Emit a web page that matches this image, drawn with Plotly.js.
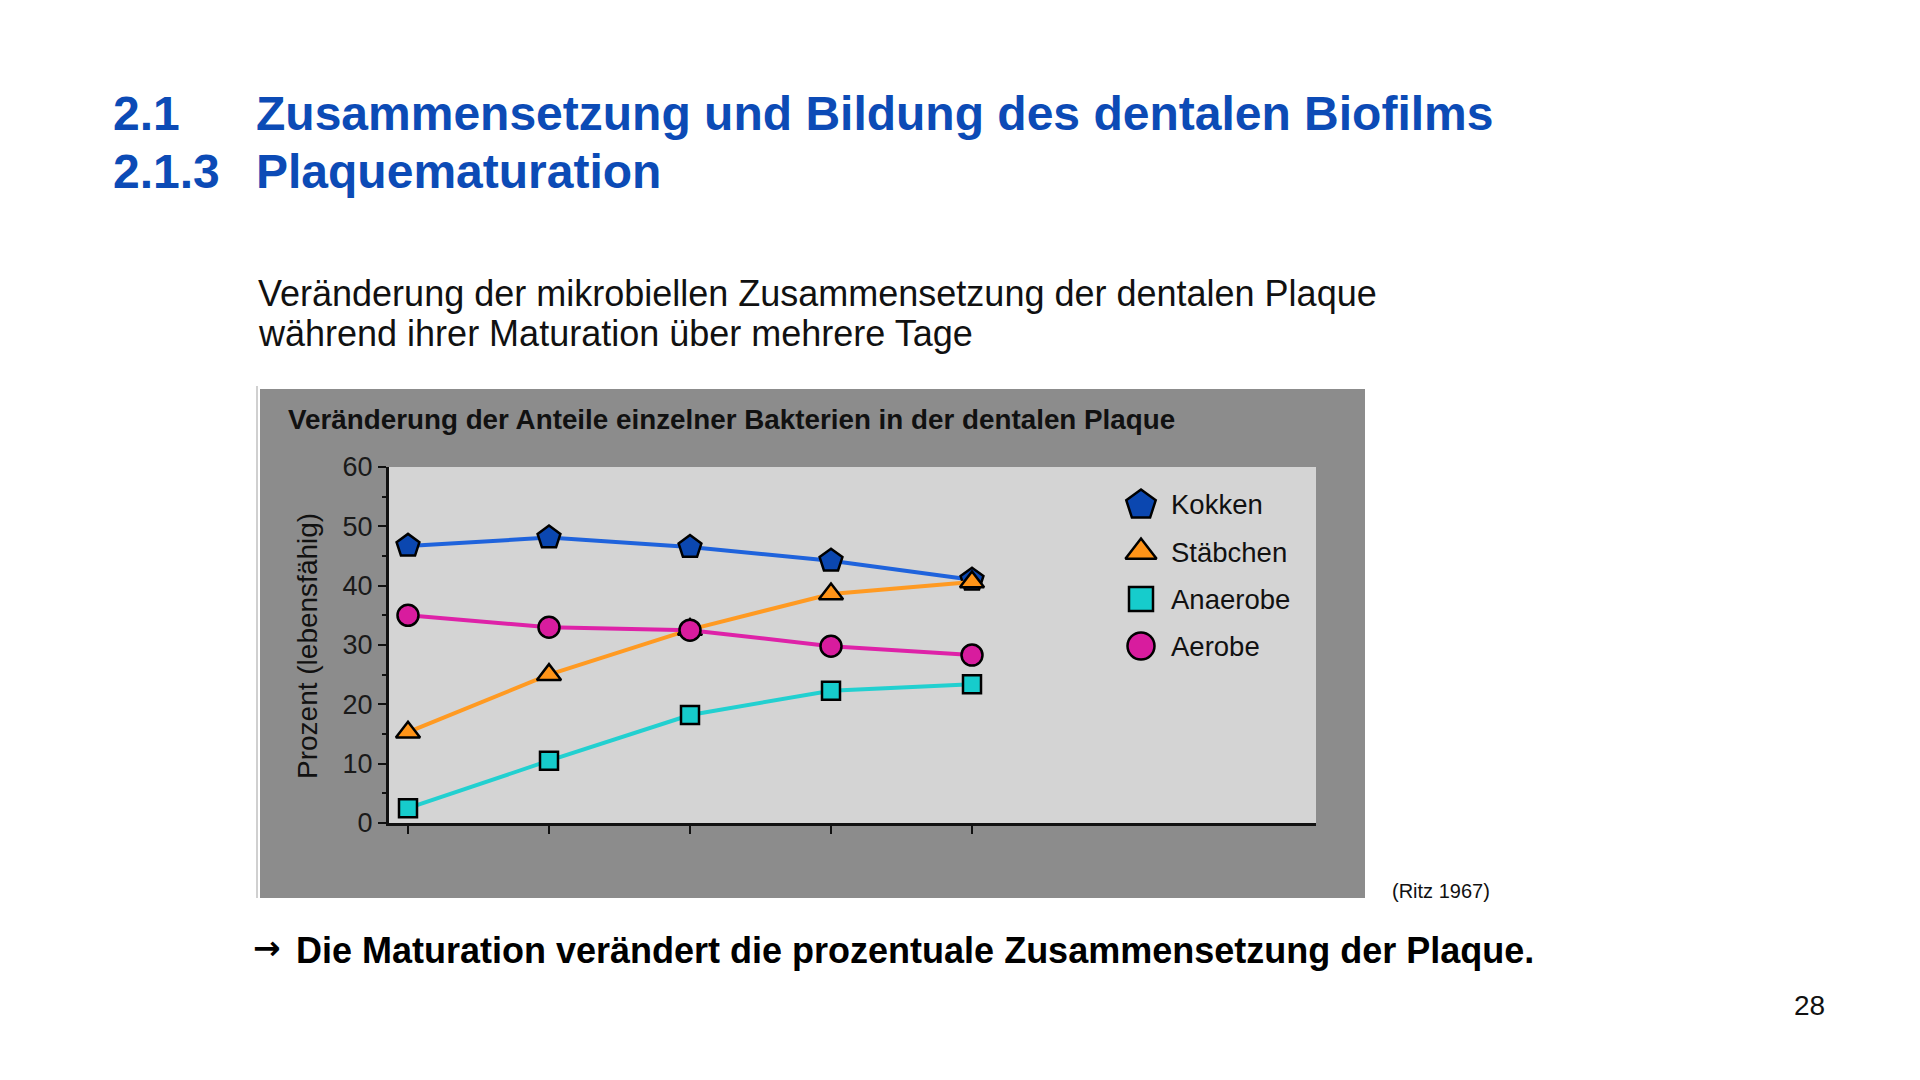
<!DOCTYPE html>
<html lang="de">
<head>
<meta charset="utf-8">
<title>Plaquematuration</title>
<script src="https://cdn.plot.ly/plotly-3.0.1.min.js"></script>
<style>
  html, body { margin: 0; padding: 0; background: #fff; }
  #plot-area { width: 1920px; height: 1080px; }
</style>
</head>
<body>
<div id="plot-area"></div>
<script>
// --- Daten ---
const tage = [1, 2, 3, 4, 5];
const kokken = [46.7, 48.1, 46.5, 44.2, 41.0];
const staebchen = [15.3, 25.0, 32.6, 38.6, 40.6];
const anaerobe = [2.5, 10.5, 18.2, 22.3, 23.4];
const aerobe = [35.0, 33.0, 32.5, 29.8, 28.3];

const serienNamen = ['Kokken', 'Stäbchen', 'Anaerobe', 'Aerobe'];
const yTicks = [0, 10, 20, 30, 40, 50, 60];

// --- Stil ---
const FONT = 'Liberation Sans, Arial, sans-serif';
const BLUE_TITLE = '#0c4bb6';
const styles = [
    { symbol: 'pentagon', fill: '#0b47b0', line: '#1f63dc', size: 24, legSize: 31 },
    { symbol: 'triangle-up', fill: '#ff9418', line: '#ff9a22', size: 21, legSize: 27 },
    { symbol: 'square', fill: '#16cccc', line: '#22d0d0', size: 18, legSize: 24 },
    { symbol: 'circle', fill: '#d81c9e', line: '#de22a8', size: 21, legSize: 27 }
];
const serien = [kokken, staebchen, anaerobe, aerobe];

// Pixel -> paper
const W = 1920, H = 1080;
const px = v => v / W;
const py = v => 1 - v / H;

// Plotbereich in Pixeln
const plotL = 389, plotR = 1316, plotT = 467, plotB = 823;

// --- Linien + Marker ---
const data = serien.map((vals, i) => ({
    x: tage,
    y: vals,
    type: 'scatter',
    mode: 'lines+markers',
    name: serienNamen[i],
    line: { color: styles[i].line, width: 4 },
    marker: {
        symbol: styles[i].symbol,
        size: styles[i].size,
        color: styles[i].fill,
        opacity: 1,
        line: { color: '#000', width: 2.5 }
    },
    showlegend: false,
    hoverinfo: 'none'
}));

// Legende von Hand (Plotly begrenzt die Markergröße in der Legende)
const legX = 1141, legY0 = 505, legStep = 47;
data.push({
    x: serienNamen.map(() => legX),
    y: serienNamen.map((_, i) => legY0 + i * legStep),
    xaxis: 'x2',
    yaxis: 'y2',
    type: 'scatter',
    mode: 'markers',
    marker: {
        symbol: styles.map(s => s.symbol),
        size: styles.map(s => s.legSize),
        color: styles.map(s => s.fill),
        opacity: 1,
        line: { color: '#000', width: 2.5 }
    },
    showlegend: false,
    hoverinfo: 'none'
});

const annotations = [];

serienNamen.forEach((n, i) => {
    annotations.push({
        x: legX + 28, y: legY0 + i * legStep,
        xref: 'x2', yref: 'y2',
        text: n, showarrow: false,
        xanchor: 'left', yanchor: 'middle',
        font: { family: FONT, size: 27.5, color: '#111' }
    });
});

// Diagrammtitel + Achsentitel
annotations.push({
    x: px(286), y: py(419), xref: 'paper', yref: 'paper',
    text: '<b>Veränderung der Anteile einzelner Bakterien in der dentalen Plaque</b>',
    showarrow: false, xanchor: 'left', yanchor: 'middle',
    font: { family: FONT, size: 27.8, color: '#111' }
});
annotations.push({
    x: px(307), y: py(646), xref: 'paper', yref: 'paper',
    text: 'Prozent (lebensfähig)', textangle: -90,
    showarrow: false, xanchor: 'center', yanchor: 'middle',
    font: { family: FONT, size: 28, color: '#111' }
});

// --- Folientexte ---
const slideText = (x, y, text, size, color, bold, family) => annotations.push({
    x: px(x), y: py(y), xref: 'paper', yref: 'paper',
    text: bold ? `<b>${text}</b>` : text,
    showarrow: false, xanchor: 'left', yanchor: 'middle',
    font: { family: family || FONT, size: size, color: color }
});
slideText(111, 114, '2.1', 48, BLUE_TITLE, true);
slideText(254, 114, 'Zusammensetzung und Bildung des dentalen Biofilms', 48, BLUE_TITLE, true);
slideText(111, 171, '2.1.3', 48, BLUE_TITLE, true);
slideText(254, 171, 'Plaquematuration', 48, BLUE_TITLE, true);
slideText(256, 293, 'Veränderung der mikrobiellen Zusammensetzung der dentalen Plaque', 36, '#111', false);
slideText(256, 333, 'während ihrer Maturation über mehrere Tage', 36, '#111', false);
slideText(1390, 891, '(Ritz 1967)', 20, '#111', false);
slideText(251, 947, '→', 33, '#000', true, 'DejaVu Sans, sans-serif');
slideText(294, 950, 'Die Maturation verändert die prozentuale Zusammensetzung der Plaque.', 36, '#000', true);
slideText(1792, 1005, '28', 28, '#111', false);

// --- Hintergrundflächen ---
const shapes = [
    {
        type: 'rect', xref: 'paper', yref: 'paper', layer: 'below',
        x0: px(260), x1: px(1365), y0: py(898), y1: py(389),
        fillcolor: '#8c8c8c', line: { width: 0 }
    },
    {
        type: 'line', xref: 'paper', yref: 'paper', layer: 'below',
        x0: px(257), x1: px(257), y0: py(898), y1: py(386),
        line: { color: '#d0d0d0', width: 2 }
    },
    {
        type: 'rect', xref: 'x domain', yref: 'y domain', layer: 'below',
        x0: 0, x1: 1, y0: 0, y1: 1,
        fillcolor: '#d4d4d4', line: { width: 0 }
    }
];

// x: Tag 1 liegt bei 408 px, 141 px je Tag
const xPerDay = 141;
const xRange = [1 - (408 - plotL) / xPerDay, 1 + (plotR - 408) / xPerDay];

const layout = {
    width: W,
    height: H,
    margin: { l: 0, r: 0, t: 0, b: 0 },
    paper_bgcolor: '#fff',
    plot_bgcolor: 'rgba(0,0,0,0)',
    showlegend: false,
    xaxis: {
        domain: [px(plotL), px(plotR)],
        range: xRange,
        tickmode: 'array',
        tickvals: tage,
        showticklabels: false,
        ticks: 'outside', ticklen: 8, tickwidth: 2, tickcolor: '#111',
        showline: true, linecolor: '#111', linewidth: 3,
        showgrid: false, zeroline: false, fixedrange: true
    },
    yaxis: {
        domain: [py(plotB), py(plotT)],
        range: [0, 60],
        tickmode: 'array',
        tickvals: yTicks,
        ticks: 'outside', ticklen: 8, tickwidth: 2, tickcolor: '#111',
        minor: { dtick: 5, ticks: 'outside', ticklen: 4, tickwidth: 2, tickcolor: '#111' },
        tickfont: { family: FONT, size: 27, color: '#1a1a1a' },
        showline: true, linecolor: '#111', linewidth: 3,
        showgrid: false, zeroline: false, fixedrange: true
    },
    xaxis2: {
        overlaying: 'x', anchor: 'y2',
        domain: [px(plotL), px(plotR)],
        range: [plotL, plotR], visible: false, fixedrange: true
    },
    yaxis2: {
        overlaying: 'y', anchor: 'x2',
        domain: [py(plotB), py(plotT)],
        range: [plotB, plotT], visible: false, fixedrange: true
    },
    annotations: annotations,
    shapes: shapes
};

Plotly.newPlot('plot-area', data, layout, { displayModeBar: false, staticPlot: true });
</script>
</body>
</html>
